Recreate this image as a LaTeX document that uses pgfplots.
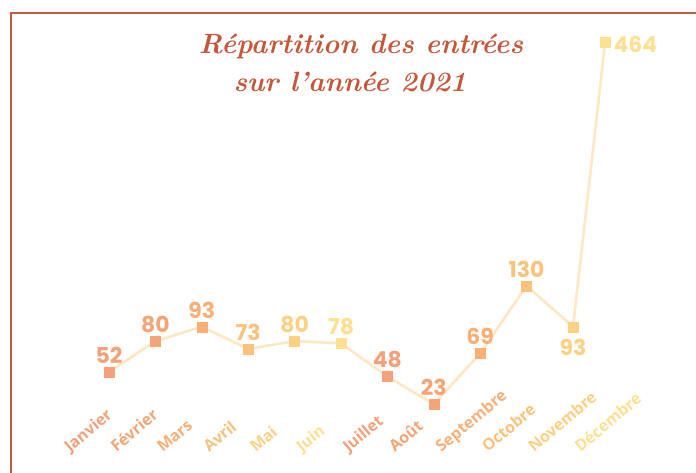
\documentclass[border=0pt]{standalone}
\usepackage{pgfplots}
\pgfplotsset{compat=1.18}
\usepackage{fontspec}
\newfontfamily\labfont{Open Sans}
\newfontfamily\numfont{Poppins}
\definecolor{framecol}{HTML}{C65B3F}
\definecolor{titlecol}{HTML}{C4573A}
\definecolor{linecol}{HTML}{FFE6C4}
\definecolor{ca}{HTML}{F4A07A}
\definecolor{cb}{HTML}{F5A574}
\definecolor{cc}{HTML}{F8B077}
\definecolor{cd}{HTML}{FBC27C}
\definecolor{ce}{HTML}{FDD184}
\definecolor{cf}{HTML}{FEE092}
\begin{document}
\begin{tikzpicture}
\useasboundingbox (0bp,0bp) rectangle (696bp,473bp);
\draw[framecol, line width=2.4bp] (11bp,-5bp) -- (11bp,460bp) -- (705bp,460bp);
\node[anchor=base, text=titlecol, font=\fontsize{28}{28}\selectfont\bfseries\itshape] at (361bp,419bp) {Répartition des entrées};
\node[anchor=base, text=titlecol, font=\fontsize{28}{28}\selectfont\bfseries\itshape] at (350bp,381bp) {sur l'année 2021};
\begin{axis}[
  at={(85.8bp,61bp)}, anchor=south west, scale only axis,
  width=556.8bp, height=369.7bp,
  xmin=-0.5, xmax=11.5, ymin=16, ymax=350,
  axis line style={draw=none}, ytick=\empty,
  xtick={0,...,11}, major tick length=0pt,
  xticklabels={{\color{ca}Janvier},{\color{cb}Février},{\color{cc}Mars},{\color{cd}Avril},{\color{ce}Mai},{\color{cf}Juin},{\color{ca}Juillet},{\color{cb}Août},{\color{cc}Septembre},{\color{cd}Octobre},{\color{ce}Novembre},{\color{cf}Décembre}},
  xticklabel style={xshift=-39bp, yshift=-41bp, anchor=base west, inner sep=0pt, rotate=40, font=\labfont\bfseries\fontsize{16}{16}\selectfont},
  nodes near coords style={font=\numfont\bfseries\fontsize{22}{22}\selectfont},
  every node near coord/.append style={yshift=5bp},
]
\addplot[linecol, line width=2.6bp, mark=none] coordinates {(0,52)(1,80)(2,93)(3,73)(4,80)(5,78)(6,48)(7,23)(8,69)(9,130)(10,93)(11,464)};
\addplot[ca, only marks, mark=square*, mark size=5bp, nodes near coords, point meta=explicit symbolic] coordinates {(0,52) [52]};
\addplot[cb, only marks, mark=square*, mark size=5bp, nodes near coords, point meta=explicit symbolic] coordinates {(1,80) [80]};
\addplot[cc, only marks, mark=square*, mark size=5bp, nodes near coords, point meta=explicit symbolic] coordinates {(2,93) [93]};
\addplot[cd, only marks, mark=square*, mark size=5bp, nodes near coords, point meta=explicit symbolic] coordinates {(3,73) [73]};
\addplot[ce, only marks, mark=square*, mark size=5bp, nodes near coords, point meta=explicit symbolic] coordinates {(4,80) [80]};
\addplot[cf, only marks, mark=square*, mark size=5bp, nodes near coords, point meta=explicit symbolic] coordinates {(5,78) [78]};
\addplot[ca, only marks, mark=square*, mark size=5bp, nodes near coords, point meta=explicit symbolic] coordinates {(6,48) [48]};
\addplot[cb, only marks, mark=square*, mark size=5bp, nodes near coords, point meta=explicit symbolic] coordinates {(7,23) [23]};
\addplot[cc, only marks, mark=square*, mark size=5bp, nodes near coords, point meta=explicit symbolic] coordinates {(8,69) [69]};
\addplot[cd, only marks, mark=square*, mark size=5bp, nodes near coords, point meta=explicit symbolic] coordinates {(9,130) [130]};
\addplot[ce, only marks, mark=square*, mark size=5bp, nodes near coords, point meta=explicit symbolic,
  every node near coord/.append style={anchor=north, yshift=-14bp}] coordinates {(10,93) [93]};
\addplot[cf, only marks, mark=square*, mark size=5bp, nodes near coords, point meta=explicit symbolic,
  every node near coord/.append style={anchor=west, xshift=5bp, yshift=-7bp}] coordinates {(10.69,350) [464]};
\end{axis}
\end{tikzpicture}
\end{document}
